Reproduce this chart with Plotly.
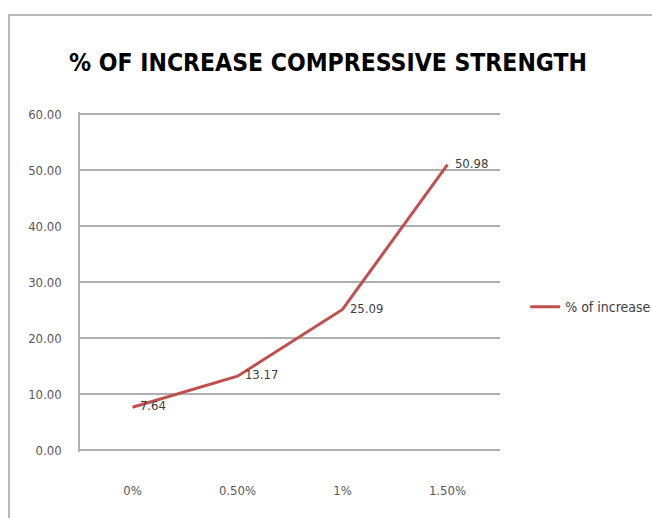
import plotly.graph_objects as go

categories = ["0%", "0.50%", "1%", "1.50%"]
values = [7.64, 13.17, 25.09, 50.98]
series_name = "% of increase"
title_text = "% OF INCREASE COMPRESSIVE STRENGTH"

FONT = "DejaVu Sans Condensed, Roboto, sans-serif"
RED = "#C0504D"
GRID = "#B0B0B0"

fig = go.Figure()
fig.add_trace(go.Scatter(
    x=categories, y=values, mode="lines+text", name=series_name,
    line=dict(color=RED, width=3),
    text=["\u00a0\u00a0" + f"{v:.2f}" for v in values], textposition="middle right",
    textfont=dict(family=FONT, size=13, color="#404040"),
))

fig.update_layout(
    width=652, height=518,
    margin=dict(l=80, r=152, t=112, b=66, autoexpand=False),
    paper_bgcolor="white", plot_bgcolor="white",
    title=dict(text=f"<b>{title_text}</b>", x=328/652, xanchor="center",
               y=1 - 62/518, yanchor="middle",
               font=dict(family=FONT, size=24.5, color="black")),
    xaxis=dict(type="category", range=[-0.5, 3.5], showgrid=False, showline=False,
               zeroline=False, ticks="", ticklabelstandoff=29,
               tickfont=dict(family=FONT, size=13, color="#595959")),
    yaxis=dict(range=[-0.36, 60.36], dtick=10, tickformat=".2f",
               showgrid=True, gridcolor=GRID, gridwidth=1.5,
               showline=True, linecolor=GRID, linewidth=1.5,
               zeroline=True, zerolinecolor=GRID, zerolinewidth=1.5,
               ticks="", ticklabelstandoff=14,
               tickfont=dict(family=FONT, size=13, color="#595959")),
    legend=dict(x=1.06, y=0.426, xanchor="left", yanchor="middle",
                font=dict(family=FONT, size=14, color="#404040"),
                itemwidth=30, bgcolor="rgba(0,0,0,0)"),
    showlegend=True,
)

fig.add_shape(type="rect", xref="paper", yref="paper",
              x0=-0.169, x1=1.39, y0=-0.25, y1=1.285,
              line=dict(color="#A0A0A0", width=1.5), layer="below")

fig.write_html("out.html")
